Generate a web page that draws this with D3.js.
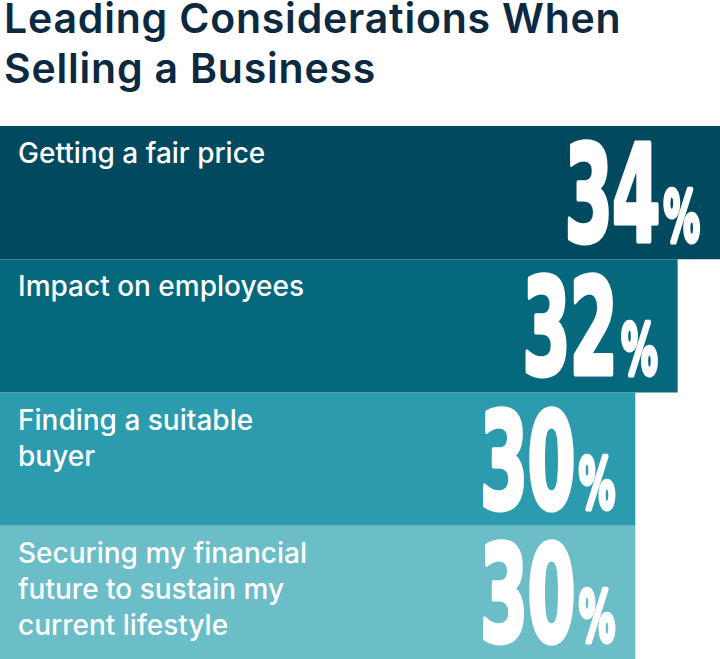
<!DOCTYPE html>
<html>
<head>
<meta charset="utf-8">
<script src="https://cdn.jsdelivr.net/npm/d3@7"></script>
<style>
  html, body { margin: 0; padding: 0; background: #fff; }
  svg { display: block; }
</style>
</head>
<body>
<div id="chart"></div>
<script>
// chart data
const titleLines = ["Leading Considerations When", "Selling a Business"];
const categories = [
  ["Getting a fair price"],
  ["Impact on employees"],
  ["Finding a suitable", "buyer"],
  ["Securing my financial", "future to sustain my", "current lifestyle"]
];
const values = [34, 32, 30, 30];
const barColors = ["#01495e", "#05687d", "#2c9bae", "#6bbdc7"];

const width = 720, height = 659;
const barTop = 126;

const svg = d3.select("#chart").append("svg")
  .attr("width", width)
  .attr("height", height);

// title
svg.append("text")
  .attr("x", 4)
  .attr("y", 33)
  .attr("fill", "#0c2941")
  .style("font-family", "Inter, 'Open Sans', sans-serif")
  .style("font-size", "41px")
  .style("font-weight", 600)
  .style("letter-spacing", "0.8px")
  .selectAll("tspan")
  .data(titleLines)
  .enter().append("tspan")
  .attr("x", 4)
  .attr("dy", (d, i) => i === 0 ? 0 : 50)
  .text(d => d);

// scales
const x = d3.scaleLinear().domain([0, d3.max(values)]).range([0, width]);
const y = d3.scaleBand().domain(d3.range(values.length)).range([barTop, height]).padding(0);

const rows = svg.selectAll("g.row")
  .data(values)
  .enter().append("g")
  .attr("class", "row")
  .attr("transform", (d, i) => `translate(0,${y(i)})`);

rows.append("rect")
  .attr("width", d => x(d))
  .attr("height", y.bandwidth())
  .attr("fill", (d, i) => barColors[i]);

// category labels
rows.append("text")
  .attr("fill", "#fff")
  .style("font-family", "Inter, 'Open Sans', sans-serif")
  .style("font-size", "28px")
  .style("font-weight", 500)
  .selectAll("tspan")
  .data((d, i) => categories[i])
  .enter().append("tspan")
  .attr("x", 18)
  .attr("y", (d, j) => 37 + j * 36)
  .text(d => d);

// big percentage numbers, condensed by a horizontal scale
const sx = 0.52;
rows.append("g")
  .attr("transform", d => `translate(${x(d) - 20},115) scale(${sx},1)`)
  .append("text")
  .attr("text-anchor", "end")
  .attr("fill", "#fff")
  .attr("stroke", "#fff")
  .attr("stroke-width", 5)
  .attr("stroke-linejoin", "round")
  .style("font-family", "'DejaVu Sans', sans-serif")
  .style("font-weight", "bold")
  .call(t => t.append("tspan")
    .style("font-size", "134px")
    .style("letter-spacing", "-2px")
    .text(d => d))
  .call(t => t.append("tspan")
    .attr("dx", 8)
    .style("font-size", "70px")
    .text("%"));
</script>
</body>
</html>
